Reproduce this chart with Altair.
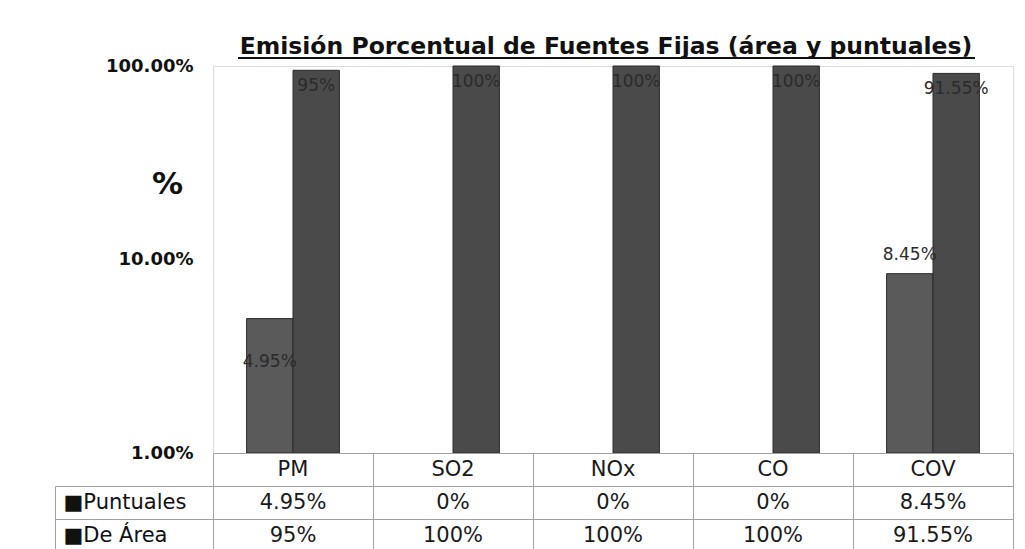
import altair as alt
import pandas as pd

categories = ["PM", "SO2", "NOx", "CO", "COV"]
series = ["Puntuales", "De Área"]
puntuales = [4.95, 0, 0, 0, 8.45]
de_area = [95, 100, 100, 100, 91.55]
y_ticks = [0.01, 0.1, 1]
title_text = "Emisión Porcentual de Fuentes  Fijas (área y puntuales)"
table_rows = ["header", "Puntuales", "De Área"]

rows = []
for i, c in enumerate(categories):
    for s, v in (("Puntuales", puntuales[i]), ("De Área", de_area[i])):
        rows.append({"cat": c, "serie": s, "pct": v, "frac": v / 100.0,
                     "base": y_ticks[0], "label": f"{v:g}%"})
df = pd.DataFrame(rows)

colors = ["#5a5a5a", "#4a4a4a"]

x_enc = alt.X("cat:N", sort=categories, axis=None,
              scale=alt.Scale(paddingInner=0.42, paddingOuter=0.21))
xoff = alt.XOffset("serie:N", sort=series, scale=alt.Scale(paddingInner=0, paddingOuter=0))
y_scale = alt.Scale(type="log", domain=[0.01, 1])

base = alt.Chart(df)

bars = base.transform_filter("datum.frac > 0").mark_bar(
    stroke="#2a2a2a", strokeWidth=1
).encode(
    x=x_enc,
    xOffset=xoff,
    y=alt.Y("frac:Q", scale=y_scale,
            axis=alt.Axis(values=y_ticks, format=".2%", title="%",
                          labelFont="DejaVu Sans", labelFontSize=18,
                          labelFontWeight="bold", labelColor="#111",
                          labelPadding=20, ticks=False, domain=False, grid=False,
                          titleAngle=0, titleFont="DejaVu Sans", titleFontSize=31,
                          titleFontWeight="bold", titleColor="#111",
                          titleX=-46, titleY=118, titleAlign="center",
                          titleBaseline="middle")),
    y2=alt.Y2("base:Q"),
    color=alt.Color("serie:N", sort=series, legend=None,
                    scale=alt.Scale(domain=series, range=colors)),
)

lbl_style = dict(font="DejaVu Sans", fontSize=17, color="#2b2b2b")

area_lbl = base.transform_filter("datum.serie == 'De Área'").mark_text(
    baseline="top", dy=8, **lbl_style
).encode(x=x_enc, xOffset=xoff, y=alt.Y("frac:Q", scale=y_scale), text="label:N")

pm_lbl = base.transform_filter("datum.serie == 'Puntuales' && datum.cat == 'PM'").mark_text(
    baseline="middle", dy=43, **lbl_style
).encode(x=x_enc, xOffset=xoff, y=alt.Y("frac:Q", scale=y_scale), text="label:N")

cov_lbl = base.transform_filter("datum.serie == 'Puntuales' && datum.cat == 'COV'").mark_text(
    baseline="bottom", dy=-10, **lbl_style
).encode(x=x_enc, xOffset=xoff, y=alt.Y("frac:Q", scale=y_scale), text="label:N")

underline = alt.Chart(pd.DataFrame({"t": [title_text]})).mark_rule(
    color="#111", strokeWidth=2
).encode(x=alt.value(25), x2=alt.value(762), y=alt.value(-8))

top = alt.layer(bars, area_lbl, pm_lbl, cov_lbl, underline).properties(
    width=800, height=387,
    title=alt.TitleParams(title_text, font="DejaVu Sans", fontSize=23.5,
                          fontWeight="bold", color="#111", anchor="middle",
                          dx=-7, offset=-20, baseline="alphabetic"),
)

# table below the plot
trows = []
for i, c in enumerate(categories):
    trows.append({"cat": c, "row": "header", "txt": c})
    trows.append({"cat": c, "row": "Puntuales", "txt": f"{puntuales[i]:g}%"})
    trows.append({"cat": c, "row": "De Área", "txt": f"{de_area[i]:g}%"})
tdf = pd.DataFrame(trows)

tx = alt.X("cat:N", sort=categories,
           scale=alt.Scale(paddingInner=0, paddingOuter=0),
           axis=alt.Axis(labels=False, ticks=False, domain=False, title=None,
                         grid=True, tickBand="extent", gridColor="#a0a0a0"))

ty_scale = alt.Scale(domain=table_rows, paddingInner=0, paddingOuter=0)

table_text = alt.Chart(tdf).mark_text(
    font="DejaVu Sans", fontSize=21, color="#1a1a1a", baseline="middle"
).encode(
    x=tx,
    y=alt.Y("row:N", sort=table_rows, scale=ty_scale,
            axis=alt.Axis(title=None, grid=True, tickBand="extent", gridColor="#a0a0a0",
                          domain=False, tickSize=158, tickWidth=1,
                          tickColor={"condition": {"test": "datum.value == null",
                                                   "value": "transparent"},
                                     "value": "#a0a0a0"},
                          labelAlign="left", labelPadding=-8,
                          labelFont="DejaVu Sans", labelFontSize=21,
                          labelColor="#111", labelBaseline="middle",
                          labelExpr="(datum.value === 'Puntuales' || datum.value === 'De Área') ? '\u25a0' + datum.value : ''")),
    text="txt:N",
)

left_line = alt.Chart(tdf).mark_text(opacity=0).encode(
    x=tx,
    y=alt.Y("row:N", sort=table_rows, scale=ty_scale,
            axis=alt.Axis(title=None, orient="left", offset=158, labels=False,
                          ticks=False, grid=False, domain=True,
                          domainColor="#a0a0a0", domainDash=[0, 33, 1000])),
    text="txt:N",
)

bottom = alt.layer(table_text, left_line).resolve_axis(y="independent").properties(
    width=800, height=99
)

chart = alt.vconcat(top, bottom, spacing=0, bounds="flush").properties(
    padding={"left": 46, "top": 26, "right": 0, "bottom": 0}
).configure_view(stroke="#8a8a8a", strokeWidth=1.5).configure(background="white")

chart.save("out.html", embed_options={"renderer": "svg", "actions": False})
